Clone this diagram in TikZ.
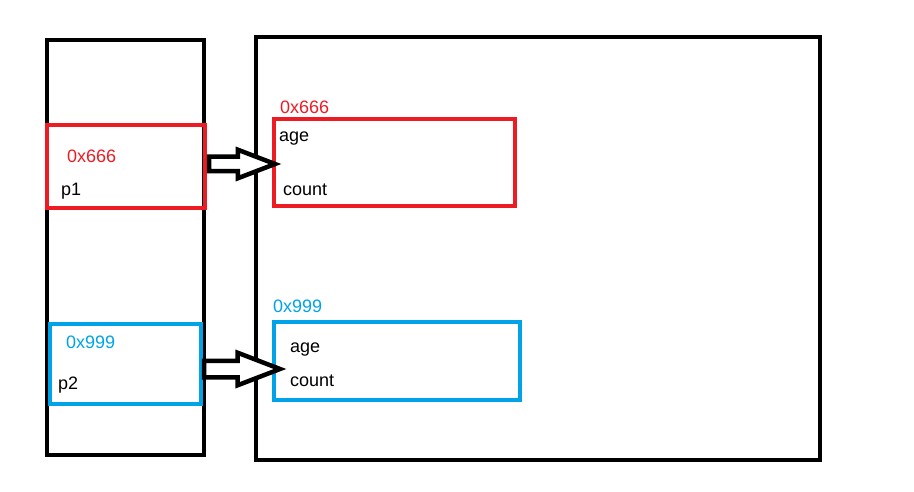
\documentclass[tikz,border=0pt]{standalone}
\usepackage{fontspec}
\setmainfont{Liberation Sans}
\usetikzlibrary{shapes.arrows}
\definecolor{cred}{RGB}{237,28,36}
\definecolor{cblue}{RGB}{0,162,232}
\begin{document}
\begin{tikzpicture}[x=1pt,y=-1pt,
  frame/.style={draw=black,line width=4pt,inner sep=0pt,outer sep=0pt,anchor=north west},
  rbox/.style={draw=cred,line width=4pt,inner sep=0pt,outer sep=0pt,anchor=north west},
  bbox/.style={draw=cblue,line width=4pt,inner sep=0pt,outer sep=0pt,anchor=north west},
  lbl/.style={anchor=west,inner sep=0pt,font=\fontsize{18}{18}\selectfont},
  blockarrow/.style={draw=black,line width=4.5pt,fill=white,single arrow,inner sep=0pt,outer sep=0pt,anchor=tip}]
\useasboundingbox (0,0) rectangle (914,492);
% stack and heap
\node[frame,minimum width=157pt,minimum height=415pt] (stack) at (47,40) {};
\node[frame,minimum width=564pt,minimum height=423pt] (heap) at (256,37) {};
% red pair
\node[rbox,minimum width=158pt,minimum height=83pt] (p1box) at (47,125) {};
\node[rbox,minimum width=241pt,minimum height=87pt] (o1box) at (274,119) {};
\node[lbl,text=cred] (p1addr) at (67,156) {0x666};
\node[lbl] (p1) at (61,191) {p1};
\node[lbl,text=cred] (o1addr) at (280,107) {0x666};
\node[lbl] (o1age) at (279,139) {age};
\node[lbl] (o1count) at (283,190) {count};
% blue pair
\node[bbox,minimum width=151pt,minimum height=80pt] (p2box) at (50,324) {};
\node[bbox,minimum width=246pt,minimum height=78pt] (o2box) at (274,322) {};
\node[lbl,text=cblue] (p2addr) at (66,342) {0x999};
\node[lbl] (p2) at (58,385) {p2};
\node[lbl,text=cblue] (o2addr) at (273,306) {0x999};
\node[lbl] (o2age) at (290,350) {age};
\node[lbl] (o2count) at (290,381) {count};
% arrows
\node[blockarrow,minimum height=66pt,single arrow head extend=7pt,single arrow tip angle=42,inner ysep=5pt] (a1) at (275,164) {};
\node[blockarrow,minimum height=76pt,single arrow head extend=8pt,single arrow tip angle=42,inner ysep=6pt] (a2) at (280,369) {};
\end{tikzpicture}
\end{document}
